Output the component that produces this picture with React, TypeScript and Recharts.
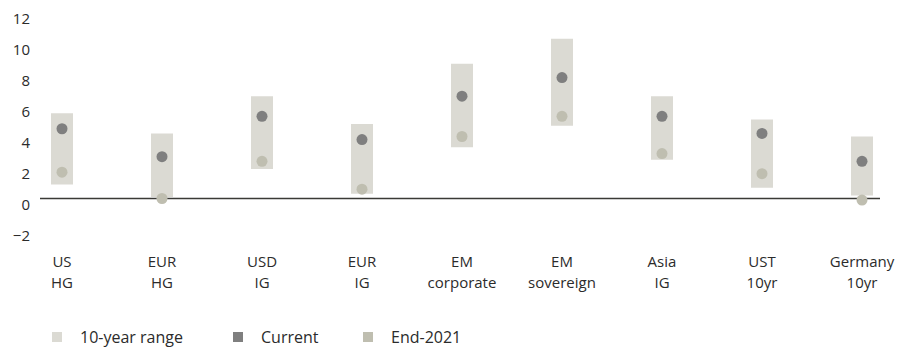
import { Bar, ComposedChart, Line, ReferenceLine, XAxis, YAxis } from 'recharts';

const RANGE_COLOR = '#dbdad3';
const CURRENT_COLOR = '#7f7f7f';
const END_COLOR = '#bfbeb0';
const TEXT_COLOR = '#2b2b2b';
const FONT = '"Open Sans", "Noto Sans", sans-serif';

const categories = [
  ['US', 'HG'],
  ['EUR', 'HG'],
  ['USD', 'IG'],
  ['EUR', 'IG'],
  ['EM', 'corporate'],
  ['EM', 'sovereign'],
  ['Asia', 'IG'],
  ['UST', '10yr'],
  ['Germany', '10yr'],
];
const rangeLow = [0.9, 0.1, 1.9, 0.3, 3.3, 4.7, 2.5, 0.7, 0.2];
const rangeHigh = [5.5, 4.2, 6.6, 4.8, 8.7, 10.3, 6.6, 5.1, 4.0];
const current = [4.5, 2.7, 5.3, 3.8, 6.6, 7.8, 5.3, 4.2, 2.4];
const end2021 = [1.7, 0.0, 2.4, 0.6, 4.0, 5.3, 2.9, 1.6, -0.1];
const yTicks = [-2, 0, 2, 4, 6, 8, 10, 12];

const data = categories.map((c, i) => ({
  idx: i,
  range: [rangeLow[i], rangeHigh[i]],
  current: current[i],
  end2021: end2021[i],
}));

interface TickProps {
  x?: number;
  y?: number;
  payload?: { value: number };
}

function YTick({ x, y, payload }: TickProps) {
  if (x === undefined || y === undefined || !payload) return null;
  const label = payload.value < 0 ? `\u2212${Math.abs(payload.value)}` : String(payload.value);
  return (
    <text x={x} y={y + 11} textAnchor="end" fill={TEXT_COLOR} fontSize={15} fontFamily={FONT}>
      {label}
    </text>
  );
}

function XTick({ x, y, payload }: TickProps) {
  if (x === undefined || y === undefined || !payload) return null;
  const lines = categories[payload.value] ?? [];
  return (
    <text x={x} y={y} textAnchor="middle" fill={TEXT_COLOR} fontSize={15} fontFamily={FONT}>
      {lines.map((l, k) => (
        <tspan key={k} x={x} dy={k === 0 ? 37.5 : 20.5}>
          {l}
        </tspan>
      ))}
    </text>
  );
}

const legendItems = [
  { label: '10-year range', color: RANGE_COLOR, left: 52 },
  { label: 'Current', color: CURRENT_COLOR, left: 233 },
  { label: 'End-2021', color: END_COLOR, left: 363 },
];

export default function App() {
  return (
    <div style={{ position: 'absolute', left: 0, top: 0, width: 909, height: 349, background: '#fff' }}>
      <ComposedChart
        width={909}
        height={349}
        data={data}
        margin={{ top: 12.5, right: 29, left: 0, bottom: 0 }}
      >
        <XAxis
          dataKey="idx"
          type="number"
          domain={[-0.22, 8.18]}
          ticks={[0, 1, 2, 3, 4, 5, 6, 7, 8]}
          axisLine={false}
          tickLine={false}
          tickSize={0}
          tickMargin={0}
          height={119.5}
          interval={0}
          tick={<XTick />}
        />
        <YAxis
          type="number"
          domain={[-2, 12]}
          ticks={yTicks}
          axisLine={false}
          tickLine={false}
          tickSize={0}
          tickMargin={10}
          width={40}
          tick={<YTick />}
        />
        <Bar dataKey="range" fill={RANGE_COLOR} barSize={22} isAnimationActive={false} />
        <ReferenceLine y={0} stroke="#3a3a36" strokeWidth={1.5} />
        <Line
          dataKey="current"
          stroke="none"
          dot={{ r: 5.5, fill: CURRENT_COLOR, stroke: 'none' }}
          activeDot={false}
          isAnimationActive={false}
        />
        <Line
          dataKey="end2021"
          stroke="none"
          dot={{ r: 5.5, fill: END_COLOR, stroke: 'none' }}
          activeDot={false}
          isAnimationActive={false}
        />
      </ComposedChart>
      {legendItems.map((it) => (
        <div
          key={it.label}
          style={{
            position: 'absolute',
            left: it.left,
            top: 327,
            height: 20,
            display: 'flex',
            alignItems: 'center',
            fontFamily: FONT,
            fontSize: 16,
            color: TEXT_COLOR,
            whiteSpace: 'nowrap',
          }}
        >
          <span style={{ width: 10, height: 10, background: it.color, marginRight: 18 }} />
          <span>{it.label}</span>
        </div>
      ))}
    </div>
  );
}
